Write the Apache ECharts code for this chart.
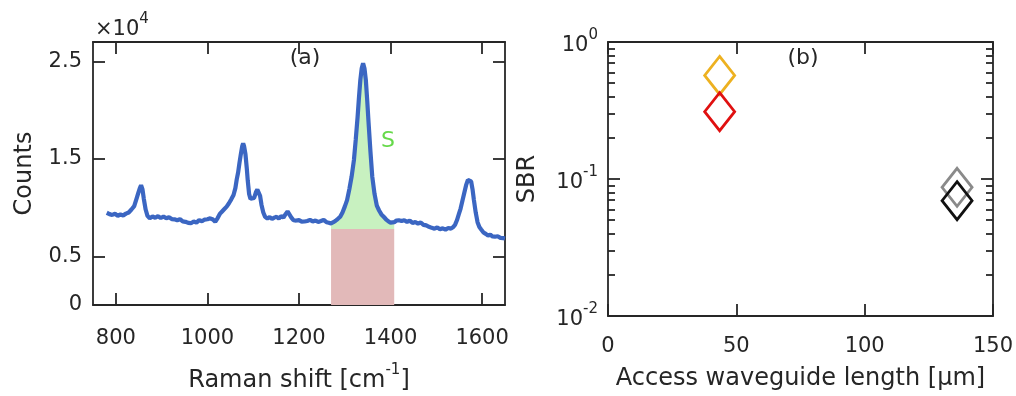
<!DOCTYPE html>
<html>
<head>
<meta charset="utf-8">
<script src="https://cdn.jsdelivr.net/npm/echarts@6/dist/echarts.min.js"></script>
<style>
  html, body { margin: 0; background: #fff; }
  #chart { width: 1016px; height: 396px; }
</style>
</head>
<body>
<div id="chart"></div>
<script>
// (a) Raman spectrum
const ramanShift = [780, 786, 792, 798, 804, 810, 816, 822, 828, 834, 840, 845, 849, 852, 855, 858, 861, 865, 869, 874,
  880, 886, 892, 898, 904, 910, 916, 922, 928, 934, 940, 946, 952, 958, 964, 970, 976, 982, 988, 994,
  1000, 1006, 1012, 1017, 1022, 1027, 1032, 1037, 1042, 1047, 1052, 1057, 1061, 1064, 1067, 1070, 1073, 1076, 1078, 1080,
  1083, 1086, 1088, 1091, 1094, 1098, 1102, 1106, 1109, 1112, 1115, 1118, 1122, 1126, 1131, 1136, 1141, 1146, 1151, 1156,
  1161, 1166, 1171, 1175, 1179, 1183, 1188, 1194, 1200, 1206, 1212, 1218, 1224, 1230, 1236, 1242, 1248, 1254, 1260, 1265,
  1270, 1275, 1280, 1285, 1290, 1295, 1300, 1305, 1310, 1315, 1320, 1324, 1328, 1331, 1334, 1337, 1340, 1343, 1346, 1349,
  1352, 1356, 1360, 1365, 1370, 1375, 1380, 1385, 1390, 1395, 1400, 1404, 1408, 1413, 1418, 1424, 1430, 1436, 1442, 1448,
  1454, 1460, 1466, 1472, 1478, 1484, 1490, 1496, 1502, 1508, 1514, 1520, 1526, 1532, 1537, 1541, 1545, 1549, 1553, 1557,
  1561, 1565, 1569, 1573, 1576, 1579, 1582, 1586, 1590, 1594, 1598, 1603, 1608, 1613, 1618, 1623, 1628, 1634, 1640, 1646, 1650];
const counts = [9470, 9330, 9250, 9360, 9160, 9290, 9200, 9380, 9500, 9800, 10150, 10900, 11500, 11950, 12300, 11900, 10900, 9800, 9150, 8900,
  9080, 8960, 9120, 8930, 9080, 8900, 9010, 8820, 8800, 8700, 8820, 8580, 8540, 8430, 8400, 8570, 8460, 8720, 8600, 8770,
  8800, 8900, 8780, 8550, 8900, 9350, 9600, 9850, 10100, 10450, 10850, 11300, 12000, 12900, 13600, 14600, 15500, 16300, 16600, 16300,
  15500, 14000, 12800, 11400, 10900, 10750, 11000, 11600, 11850, 11700, 11200, 10300, 9500, 9050, 8880, 9020, 8830, 8970, 9050, 8880,
  9120, 8980, 9350, 9600, 9450, 9000, 8700, 8670, 8720, 8560, 8570, 8630, 8740, 8580, 8670, 8530, 8620, 8740, 8500, 8450,
  8380, 8500, 8650, 8850, 9060, 9500, 10100, 10770, 11900, 13200, 14880, 17000, 19300, 21300, 23100, 24300, 24800, 24300, 23100, 21000,
  18700, 15800, 13200, 11400, 10200, 9700, 9300, 9060, 8800, 8600, 8450, 8380, 8500, 8670, 8700, 8620, 8700, 8530, 8670, 8430,
  8520, 8360, 8470, 8230, 8170, 8030, 7920, 7830, 7970, 7770, 7870, 7740, 7910, 7840, 8000, 8250, 8700, 9300, 9900, 10700,
  11500, 12300, 12850, 13000, 12700, 11900, 10800, 9500, 8500, 8000, 7750, 7450, 7300, 7130, 7220, 7030, 7010, 7060, 6890, 6860, 6820];
const bgRange = [1270, 1408];
const bgLevel = 7800;
const ramanTicks = [800, 1000, 1200, 1400, 1600];
const countTicks = [0, 5000, 15000, 25000];

// (b) signal-to-background ratio
const waveguideLength = [43.5, 43.5, 136, 136];
const sbr = [0.57, 0.31, 0.087, 0.0695];
const markerColors = ['#edb120', '#e01010', '#8a8a8a', '#111111'];

const axisColor = '#262626';
const font = 'DejaVu Sans';

const chart = echarts.init(document.getElementById('chart'));

const spectrum = ramanShift.map((x, i) => [x, counts[i]]);
const signalPart = spectrum.filter(p => p[0] >= bgRange[0] && p[0] <= bgRange[1]);

const lineStyle = { color: axisColor, width: 1.8 };
const labelStyle = { color: axisColor, fontSize: 21, fontFamily: font };
const supRich = {
  b: { fontSize: 21, fontFamily: font, color: axisColor, lineHeight: 28, verticalAlign: 'bottom' },
  s: { fontSize: 15, fontFamily: font, color: axisColor, lineHeight: 14, verticalAlign: 'top' }
};
const nameRich = {
  n: { fontSize: 24, fontFamily: font, color: axisColor, lineHeight: 30, verticalAlign: 'bottom' },
  s: { fontSize: 15, fontFamily: font, color: axisColor, lineHeight: 14, verticalAlign: 'top' }
};

function boxAxis(extra) {
  return Object.assign({
    axisLine: { show: true, onZero: false, lineStyle },
    axisLabel: { show: false },
    splitLine: { show: false }
  }, extra);
}

const option = {
  animation: false,
  backgroundColor: '#fff',
  grid: [
    { left: 93, top: 42, width: 412, height: 263, outerBoundsMode: 'none' },
    { left: 608, top: 42, width: 385, height: 274, outerBoundsMode: 'none' }
  ],
  xAxis: [
    boxAxis({
      gridIndex: 0, type: 'value', min: 750, max: 1650, position: 'bottom',
      axisTick: { inside: true, length: 12, customValues: ramanTicks, lineStyle },
      axisLabel: Object.assign({ customValues: ramanTicks, margin: 23, formatter: v => String(v) }, labelStyle),
      name: '{n|Raman shift [cm}{s|-1}{n|]}',
      nameLocation: 'middle', nameGap: 58,
      nameTextStyle: { rich: nameRich }
    }),
    boxAxis({
      gridIndex: 0, type: 'value', min: 750, max: 1650, position: 'top',
      axisTick: { inside: true, length: 12, customValues: ramanTicks, lineStyle }
    }),
    boxAxis({
      gridIndex: 1, type: 'value', min: 0, max: 150, interval: 50, position: 'bottom',
      axisTick: { inside: true, length: 12, lineStyle },
      axisLabel: Object.assign({ margin: 20, formatter: v => String(v) }, labelStyle),
      name: 'Access waveguide length [µm]',
      nameLocation: 'middle', nameGap: 51,
      nameTextStyle: { fontSize: 24, fontFamily: font, color: axisColor }
    }),
    boxAxis({
      gridIndex: 1, type: 'value', min: 0, max: 150, interval: 50, position: 'top',
      axisTick: { inside: true, length: 12, lineStyle }
    })
  ],
  yAxis: [
    boxAxis({
      gridIndex: 0, type: 'value', min: 0, max: 27000, position: 'left',
      axisTick: { inside: true, length: 12, customValues: countTicks, lineStyle },
      axisLabel: Object.assign({ customValues: countTicks, margin: 11, formatter: v => String(v / 1e4) }, labelStyle),
      name: 'Counts', nameLocation: 'middle', nameGap: 56,
      nameTextStyle: { fontSize: 24, fontFamily: font, color: axisColor }
    }),
    boxAxis({
      gridIndex: 0, type: 'value', min: 0, max: 27000, position: 'right',
      axisTick: { inside: true, length: 12, customValues: countTicks, lineStyle }
    }),
    boxAxis({
      gridIndex: 1, type: 'log', logBase: 10, min: 0.01, max: 1, position: 'left',
      axisTick: { inside: true, length: 12, lineStyle },
      minorTick: { show: true, splitNumber: 9, length: 7, lineStyle },
      axisLabel: {
        margin: 10,
        formatter: v => '{b|10}{s|' + Math.round(Math.log10(v)) + '}',
        rich: supRich
      },
      name: 'SBR', nameLocation: 'middle', nameGap: 68,
      nameTextStyle: { fontSize: 24, fontFamily: font, color: axisColor }
    }),
    boxAxis({
      gridIndex: 1, type: 'log', logBase: 10, min: 0.01, max: 1, position: 'right',
      axisTick: { inside: true, length: 12, lineStyle },
      minorTick: { show: true, splitNumber: 9, length: 7, lineStyle }
    })
  ],
  series: [
    {
      name: 'S',
      type: 'line',
      xAxisIndex: 0, yAxisIndex: 0,
      data: signalPart,
      symbol: 'none',
      lineStyle: { width: 0 },
      areaStyle: { color: '#c8f1c0', opacity: 1, origin: bgLevel },
      z: 1,
      markArea: {
        silent: true,
        itemStyle: { color: '#e2b9b9', opacity: 1 },
        data: [[{ xAxis: bgRange[0], yAxis: 0 }, { xAxis: bgRange[1], yAxis: bgLevel }]]
      }
    },
    {
      name: 'spectrum',
      type: 'line',
      xAxisIndex: 0, yAxisIndex: 0,
      data: spectrum,
      symbol: 'none',
      lineStyle: { color: '#3b66c2', width: 4.2 },
      z: 3
    },
    {
      name: 'SBR',
      type: 'scatter',
      xAxisIndex: 2, yAxisIndex: 2,
      data: waveguideLength.map((x, i) => ({
        value: [x, sbr[i]],
        itemStyle: { borderColor: markerColors[i] }
      })),
      symbol: 'diamond',
      symbolSize: [30, 38],
      itemStyle: { color: 'rgba(0,0,0,0)', borderWidth: 2.8, opacity: 1 }
    }
  ],
  graphic: [
    { type: 'text', x: 305, y: 58, style: { text: '(a)', font: '22px "DejaVu Sans"', fill: axisColor, align: 'center', verticalAlign: 'middle' } },
    { type: 'text', x: 803, y: 58, style: { text: '(b)', font: '22px "DejaVu Sans"', fill: axisColor, align: 'center', verticalAlign: 'middle' } },
    { type: 'text', x: 388, y: 141, style: { text: 'S', font: '22px "DejaVu Sans"', fill: '#66d94a', align: 'center', verticalAlign: 'middle' } },
    { type: 'text', x: 360, y: 272, style: { text: 'BG', font: '22px "DejaVu Sans"', fill: '#c41e1e', align: 'center', verticalAlign: 'middle' } },
    {
      type: 'text', x: 95, y: 12,
      style: { text: '{b|×10}{s|4}', rich: supRich, fill: axisColor }
    }
  ]
};

chart.setOption(option);
</script>
</body>
</html>
